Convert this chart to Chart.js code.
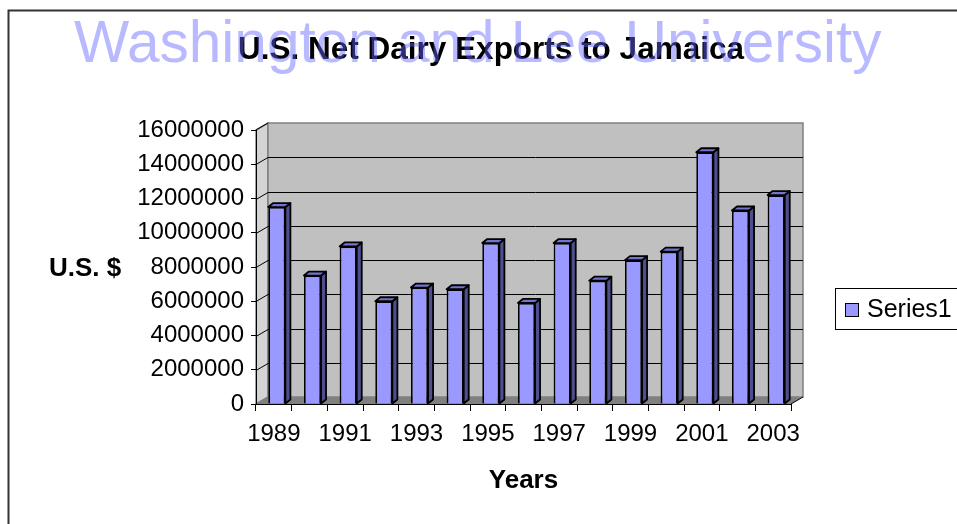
<!DOCTYPE html>
<html>
<head>
<meta charset="utf-8">
<script src="https://cdn.jsdelivr.net/npm/chart.js@4/dist/chart.umd.min.js"></script>
<style>
  html, body { margin: 0; padding: 0; background: #fff; }
  #wrap { width: 957px; height: 524px; position: relative; }
</style>
</head>
<body>
<div id="wrap"><canvas id="dairyChart"></canvas></div>
<script>
const years = ['1989', '1990', '1991', '1992', '1993', '1994', '1995', '1996',
    '1997', '1998', '1999', '2000', '2001', '2002', '2003'];
const netExports = [11500000, 7500000, 9200000, 6000000, 6800000, 6700000, 9400000, 5900000,
    9400000, 7200000, 8400000, 8900000, 14700000, 11300000, 12200000];
const yTicks = [0, 2000000, 4000000, 6000000, 8000000, 10000000, 12000000, 14000000, 16000000];
const seriesName = 'Series1';
const chartTitle = 'U.S. Net Dairy Exports to Jamaica';
const watermark = 'Washington and Lee University';
const yTitle = 'U.S. $';
const xTitle = 'Years';

const FONT = '"Liberation Sans", Arial, sans-serif';
const DX = 12, DY = 7;       // depth of the fake 3d walls
const BX = 5, BY = 4;        // depth of the bars

// white page, frame, back wall, side wall and floor
const walls = {
    id: 'walls',
    beforeDraw(chart) {
        const { ctx, chartArea: a, scales: { y } } = chart;
        ctx.save();
        ctx.fillStyle = '#fff';
        ctx.fillRect(0, 0, chart.width, chart.height);
        ctx.strokeStyle = '#333';
        ctx.lineWidth = 2;
        ctx.strokeRect(8.5, 10.5, chart.width + 20, chart.height + 20);

        // side wall
        ctx.fillStyle = '#d4d4d4';
        ctx.beginPath();
        ctx.moveTo(a.left, a.top); ctx.lineTo(a.left + DX, a.top - DY);
        ctx.lineTo(a.left + DX, a.bottom - DY); ctx.lineTo(a.left, a.bottom);
        ctx.closePath(); ctx.fill();
        ctx.strokeStyle = '#808080'; ctx.lineWidth = 1.5; ctx.stroke();

        // back wall
        ctx.fillStyle = '#c0c0c0';
        ctx.fillRect(a.left + DX, a.top - DY, a.right - a.left, a.bottom - a.top);
        ctx.strokeRect(a.left + DX, a.top - DY, a.right - a.left, a.bottom - a.top);

        // floor
        ctx.fillStyle = '#808080';
        ctx.beginPath();
        ctx.moveTo(a.left, a.bottom); ctx.lineTo(a.left + DX, a.bottom - DY);
        ctx.lineTo(a.right + DX, a.bottom - DY); ctx.lineTo(a.right, a.bottom);
        ctx.closePath(); ctx.fill();

        // grid lines on the back and side walls
        ctx.strokeStyle = '#000';
        ctx.lineWidth = 1;
        yTicks.forEach((v) => {
            if (v === 0 || v === yTicks[yTicks.length - 1]) return;
            const py = Math.round(y.getPixelForValue(v)) + 0.5;
            ctx.beginPath();
            ctx.moveTo(a.left, py);
            ctx.lineTo(a.left + DX, py - DY);
            ctx.lineTo(a.right + DX, py - DY);
            ctx.stroke();
        });
        ctx.beginPath();
        ctx.moveTo(a.left, a.top); ctx.lineTo(a.left + DX, a.top - DY);
        ctx.moveTo(a.right, a.bottom); ctx.lineTo(a.right + DX, a.bottom - DY);
        ctx.stroke();
        ctx.restore();
    },
};

// bars sit in the middle of the depth, so nudge them right a bit,
// then draw the side and top faces of each one
const barFaces = {
    id: 'barFaces',
    afterDatasetsUpdate(chart) {
        chart.getDatasetMeta(0).data.forEach((bar) => { bar.x += 3; });
    },
    afterDatasetsDraw(chart) {
        const { ctx } = chart;
        ctx.save();
        ctx.strokeStyle = '#000';
        ctx.lineWidth = 1.8;
        ctx.lineJoin = 'round';
        chart.getDatasetMeta(0).data.forEach((bar) => {
            const { x, y, base, width } = bar.getProps(['x', 'y', 'base', 'width'], true);
            const l = x - width / 2, r = x + width / 2;
            ctx.fillStyle = '#4f4f8f';
            ctx.beginPath();
            ctx.moveTo(r, y); ctx.lineTo(r + BX, y - BY);
            ctx.lineTo(r + BX, base - BY); ctx.lineTo(r, base);
            ctx.closePath(); ctx.fill(); ctx.stroke();
            ctx.fillStyle = '#7474d0';
            ctx.beginPath();
            ctx.moveTo(l, y); ctx.lineTo(l + BX, y - BY);
            ctx.lineTo(r + BX, y - BY); ctx.lineTo(r, y);
            ctx.closePath(); ctx.fill(); ctx.stroke();
        });
        ctx.restore();
    },
};

// title, watermark, horizontal y title and the boxed legend
const texts = {
    id: 'texts',
    afterDraw(chart) {
        const { ctx } = chart;
        ctx.save();
        ctx.textBaseline = 'middle';

        ctx.fillStyle = '#000';
        ctx.font = 'bold 31.5px ' + FONT;
        ctx.textAlign = 'center';
        ctx.fillText(chartTitle, 491, 50);

        ctx.fillStyle = 'rgba(100,100,255,0.45)';
        ctx.font = '58.5px ' + FONT;
        ctx.textAlign = 'left';
        ctx.textBaseline = 'alphabetic';
        ctx.fillText(watermark, 74, 62);

        ctx.textBaseline = 'middle';
        ctx.fillStyle = '#000';
        ctx.font = 'bold 26px ' + FONT;
        ctx.textAlign = 'center';
        ctx.fillText(yTitle, 85, 269);

        ctx.strokeStyle = '#000';
        ctx.lineWidth = 1;
        ctx.strokeRect(835.5, 288.5, 160, 41);
        ctx.fillStyle = chart.data.datasets[0].backgroundColor;
        ctx.fillRect(845.5, 303.5, 13, 13);
        ctx.strokeRect(845.5, 303.5, 13, 13);
        ctx.fillStyle = '#000';
        ctx.font = '25px ' + FONT;
        ctx.textAlign = 'left';
        ctx.fillText(chart.data.datasets[0].label, 867, 310);
        ctx.restore();
    },
};

new Chart(document.getElementById('dairyChart'), {
    type: 'bar',
    data: {
        labels: years,
        datasets: [{
            label: seriesName,
            data: netExports,
            backgroundColor: '#9999ff',
            borderColor: '#000',
            borderWidth: 1.8,
            categoryPercentage: 1,
            barPercentage: 0.48,
        }],
    },
    options: {
        responsive: true,
        maintainAspectRatio: false,
        animation: false,
        layout: { padding: { top: 130, right: 166, left: 0, bottom: 0 } },
        plugins: { legend: { display: false }, title: { display: false }, tooltip: { enabled: false } },
        scales: {
            x: {
                afterFit: (s) => { s.height = 120; },
                grid: { offset: true, drawOnChartArea: false, drawTicks: true, tickLength: 7, color: '#000' },
                border: { color: '#000', width: 1 },
                ticks: {
                    autoSkip: false, maxRotation: 0, padding: 9, color: '#000',
                    font: { family: FONT, size: 24 },
                    callback: (v, i) => (i % 2 === 0 ? years[i] : ''),
                },
                title: {
                    display: true, text: xTitle, color: '#000',
                    font: { family: FONT, size: 26, weight: 'bold' },
                    padding: { top: 0, bottom: 28 },
                },
            },
            y: {
                min: 0,
                max: 16000000,
                afterFit: (s) => { s.width = 256; },
                afterBuildTicks: (s) => { s.ticks = yTicks.map((v) => ({ value: v })); },
                grid: { drawOnChartArea: false, drawTicks: true, tickLength: 5, color: '#000' },
                border: { color: '#000', width: 1 },
                ticks: {
                    padding: 7, color: '#000',
                    font: { family: FONT, size: 24 },
                    callback: (v) => String(v),
                },
            },
        },
    },
    plugins: [walls, barFaces, texts],
});
</script>
</body>
</html>
